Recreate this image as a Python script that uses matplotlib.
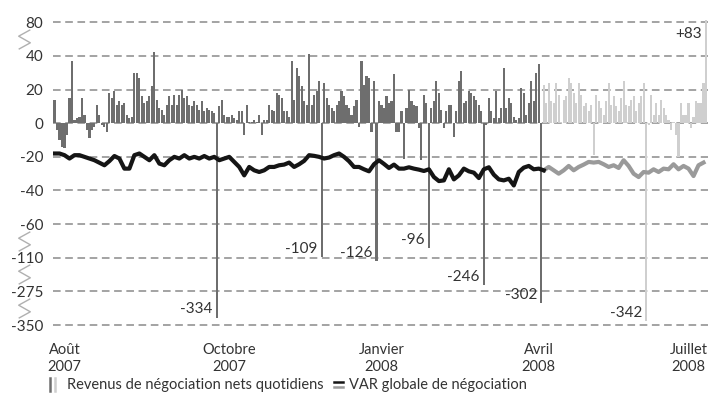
import matplotlib
matplotlib.use("Agg")
import matplotlib.pyplot as plt
import numpy as np
from matplotlib.lines import Line2D
from matplotlib.path import Path
from matplotlib.transforms import blended_transform_factory

# revenus de négociation nets quotidiens (M$), un par jour de bourse
rev_aout_mars = [
    14, -4, -10, -14, -15, -7, 15, 37, 2, 3, 4, 15, 5, -4, -9, -4, -2, 11, 5, -1,
    -2, -5, 18, 15, 19, 11, 13, 11, 12, 5, 3, 4, 30, 30, 27, 16, 12, 13, 16, 22,
    45, 14, 9, 8, 5, 11, 16, 11, 17, 11, 17, 20, 15, 16, 11, 10, 13, 11, 8, 13,
    7, 9, 8, 7, 6, -334, 10, 14, 5, 4, 4, 5, 3, 2, 7, 7, -7, 11, 1, 1,
    2, 1, 5, -7, 2, 2,
    11, 8, 7, 18, 17, 15, 7, 7, 4, 37, 14, 33, 28, 22, 13, 11, 42, 11, 17, 19,
    25, -109, 24, 15, 11, 9, 7, 11, 13, 19, 16, 11, 9, 5, 10, 14, -2, 37, 23, 28,
    27, -5, 25, -126, 13, 11, 9, 16, 12, 13, 29, -5, -5, 7, -21, 9, 20, 13, 11, 10,
    -3, -22, 17, 12, -96, 9, 13, 25, 18, 8, -3, 7, 11, 11, -8, 7, 25, 31, 12, 13,
    19, 18, 16, 14, 11, 7, -246, -1,
    15, 7, 3, 19, 3, 9, 33, 9, 15, 12, 4, 2, 3, 21, 18, 5, 12, 25, 13, 30,
    35, -302,
]
rev_avril_juillet = [
    23, 12, 24, 13, 12, 24, 17, 1, 14, 16, 27, 24, 18, 12, 24, 17, 10, 12, 7, 11,
    -19, 17, 13, 9, 5, 13, 24, 11, 16, 10, 7, 15, 25, 11, 10, 14, 16, 7, 12, 16,
    24, -342, -1, 17, 5, 12, 5, 14, 9, 5, 2, -4, 1, -7, -20, 12, 5, 5, 12, -3,
    4, 13, 12, 12, 24, 83,
]

# VAR globale de négociation, relevée tous les deux jours de bourse
var_globale = [
    -18, -18, -19, -21, -19, -19, -20, -21, -22, -23.5, -25, -22.5, -19.5, -21, -27, -27,
    -19, -18, -20, -22, -19, -24, -25, -22, -20, -21, -19, -21, -20, -21, -19.5, -21,
    -20, -22, -21, -20, -23, -26, -31, -26, -28, -29, -28, -26,
    -26, -25, -24.6, -23.4, -26, -24.4, -22.4, -19, -19.4, -20, -21, -20.4, -19, -18, -20, -22.6,
    -26, -26, -27.4, -28.6, -24.4, -22, -24.2, -26.6, -24.6, -27, -27, -26.2, -27, -27.6, -28.4, -27.4,
    -32, -34.4, -34, -27.4, -33.4, -31, -27, -28.6, -29.4, -32.6, -27.4,
    -26.2, -30.6, -33.4, -34, -33, -37, -29, -26.4, -25.4, -27.4,
    -27, -28, -26, -28, -30, -28, -25.4, -28, -26, -24.6, -23, -23.4, -23, -24.4, -26, -25,
    -26.6, -22, -25.4, -30, -32, -29, -29.4, -27.4, -29, -27, -27.4, -24.4, -27.4, -25.4, -27, -31.4,
    -25, -23.4,
]
var_pas = 2

y_ticks = [-350, -275, -110, -60, -40, -20, 0, 20, 40, 80]
y_ruptures = [60, -85, -190, -312]

mois = ["Août\n2007", "Octobre\n2007", "Janvier\n2008", "Avril\n2008", "Juillet\n2008"]
mois_jours = [4, 70, 131, 194, 254]

FONT = "Lato"
TXT = "#333333"
FONCE = "#6e6e6e"
CLAIR = "#cfcfcf"

# échelle à ruptures : chaque intervalle entre graduations a la même hauteur
knots_v = [-425] + y_ticks + [120]
knots_p = [-1] + list(range(len(y_ticks))) + [len(y_ticks)]


def fwd(v):
    return np.interp(v, knots_v, knots_p)


def inv(p):
    return np.interp(p, knots_p, knots_v)


plt.rcParams["font.family"] = [FONT, "DejaVu Sans"]

fig = plt.figure(figsize=(7.09, 4.03), dpi=100)
ax = fig.add_axes([53 / 709, 1 - 325.9 / 403, 655 / 709, (325.9 - 17.3) / 403])
ax.set_yscale("function", functions=(fwd, inv))

rev = np.array(rev_aout_mars + rev_avril_juillet)
jours = np.arange(len(rev))
n1 = len(rev_aout_mars)
couleurs = [FONCE] * n1 + [CLAIR] * len(rev_avril_juillet)
ax.bar(jours, rev, width=0.85, color=couleurs, linewidth=0, zorder=2)

# VAR
var = np.array(var_globale)
var_x = np.arange(len(var)) * var_pas
sep = var_x <= n1
ax.plot(var_x[sep], var[sep], color="#151515", lw=3, zorder=4, solid_joinstyle="round")
sep2 = var_x >= var_x[sep][-1]
ax.plot(var_x[sep2], var[sep2], color="#9a9a9a", lw=3, zorder=3, solid_joinstyle="round")

# étiquettes des valeurs extrêmes
for j, v in zip(jours, rev):
    if v < -50:
        ax.annotate(f"{v}", (j, v), xytext=(-3, 1), textcoords="offset points",
                    ha="right", va="bottom", fontsize=11, color=TXT)
    elif v > 50:
        ax.annotate(f"+{v}", (j, v), xytext=(-3, -5), textcoords="offset points",
                    ha="right", va="top", fontsize=11, color=TXT)

ax.set_ylim(-352, 86)
ax.set_xlim(-0.6, len(rev) - 0.2)
ax.set_yticks(y_ticks)
ax.set_yticklabels([str(t) for t in y_ticks])
ax.set_xticks(mois_jours)
ax.set_xticklabels(mois)
ax.yaxis.set_minor_locator(matplotlib.ticker.NullLocator())
ax.tick_params(axis="both", length=0, labelcolor=TXT)
ax.tick_params(axis="y", pad=7, labelsize=11)
ax.tick_params(axis="x", pad=12, labelsize=10.5)
plt.setp(ax.get_xticklabels(), linespacing=1.35)
ax.grid(axis="y", color="#8a8a8a", lw=1.1, ls=(0, (5, 3)))
ax.set_axisbelow(True)
for s in ax.spines.values():
    s.set_visible(False)

# marques de rupture d'échelle
zig = Path([(0.3, 0.5), (-0.3, 0.17), (0.3, -0.17), (-0.3, -0.5)],
           [Path.MOVETO, Path.LINETO, Path.LINETO, Path.LINETO])
tr = blended_transform_factory(ax.transAxes, ax.transData)
for yr in y_ruptures:
    ax.plot([-0.045], [yr], transform=tr, marker=zig, markersize=14, mfc="none",
            mec="#b0b0b0", mew=1.0, clip_on=False, ls="none")

# légende
def fx(px):
    return px / 709


def fy(py):
    return 1 - py / 403


fig.add_artist(Line2D([fx(50), fx(50)], [fy(378), fy(391)], color=FONCE, lw=1.8))
fig.add_artist(Line2D([fx(55), fx(55)], [fy(378), fy(391)], color=CLAIR, lw=1.8))
fig.text(fx(67), fy(385), "Revenus de négociation nets quotidiens", fontsize=10.5,
         color=TXT, va="center", ha="left")
fig.add_artist(Line2D([fx(334), fx(343)], [fy(382), fy(382)], color="#151515", lw=1.8))
fig.add_artist(Line2D([fx(334), fx(343)], [fy(387), fy(387)], color="#9a9a9a", lw=1.8))
fig.text(fx(349), fy(385), "VAR globale de négociation", fontsize=10.5,
         color=TXT, va="center", ha="left")

fig.savefig("out.png", dpi=100)
